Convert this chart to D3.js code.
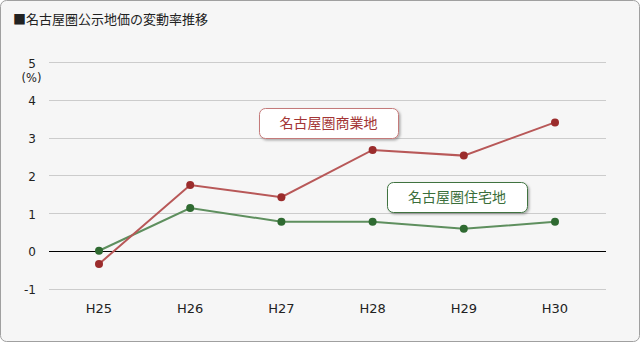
<!DOCTYPE html>
<html>
<head>
<meta charset="utf-8">
<script src="https://cdn.jsdelivr.net/npm/d3@7/dist/d3.min.js"></script>
<style>
  body { margin: 0; background: #fff; }
  svg { display: block; font-family: "Noto Sans CJK JP", "Noto Sans", sans-serif; }
  .num { font-family: "DejaVu Sans", sans-serif; }
</style>
</head>
<body>
<svg id="chart" width="640" height="342"></svg>
<script>
// data
const years = ['H25', 'H26', 'H27', 'H28', 'H29', 'H30'];
const commercial = [-0.35, 1.74, 1.42, 2.67, 2.52, 3.4];
const residential = [0, 1.13, 0.77, 0.77, 0.58, 0.77];
const yTicks = [-1, 0, 1, 2, 3, 4, 5];
const seriesNames = ['名古屋圏商業地', '名古屋圏住宅地'];

var colors = {
  redLine: '#b85858', redDot: '#9b2c2c', redText: '#a33535', redBorder: '#c47a7a',
  greenLine: '#5e8f5e', greenDot: '#2f6a31', greenText: '#3a6e3a', greenBorder: '#3f7340'
};

const svg = d3.select('#chart');

// background panel
svg.append('rect')
  .attr('x', 0.5).attr('y', 0.5)
  .attr('width', 639).attr('height', 341)
  .attr('rx', 6).attr('ry', 6)
  .attr('fill', '#f6f6f6')
  .attr('stroke', '#a0a0a0');

svg.append('text')
  .attr('x', 13).attr('y', 24)
  .attr('font-size', 13)
  .attr('fill', '#222')
  .text('■名古屋圏公示地価の変動率推移');

const left = 49, right = 606;
const x = d3.scalePoint().domain(years).range([99, 555]);
const y = d3.scaleLinear().domain([-1, 5]).range([288.5, 62]);

// grid
const grid = svg.append('g');
grid.selectAll('line')
  .data(yTicks)
  .enter().append('line')
  .attr('x1', left).attr('x2', right)
  .attr('y1', d => Math.round(y(d)) + 0.5)
  .attr('y2', d => Math.round(y(d)) + 0.5)
  .attr('stroke', d => d === 0 ? '#000' : '#cccccc')
  .attr('stroke-width', 1);

// y labels
svg.append('g').selectAll('text')
  .data(yTicks)
  .enter().append('text')
  .attr('class', 'num')
  .attr('x', 36)
  .attr('y', d => y(d) + 5.5)
  .attr('text-anchor', 'end')
  .attr('font-size', 12)
  .attr('fill', '#222')
  .text(d => d);

svg.append('text')
  .attr('class', 'num')
  .attr('x', 31.5).attr('y', 82)
  .attr('text-anchor', 'middle')
  .attr('font-size', 11.5)
  .attr('fill', '#222')
  .text('(%)');

// x labels
svg.append('g').selectAll('text')
  .data(years)
  .enter().append('text')
  .attr('class', 'num')
  .attr('x', d => x(d))
  .attr('y', 313)
  .attr('text-anchor', 'middle')
  .attr('font-size', 13)
  .attr('fill', '#222')
  .text(d => d);

const line = d3.line()
  .x((d, i) => x(years[i]))
  .y(d => y(d));

function drawSeries(vals, lineColor, dotColor) {
  svg.append('path')
    .datum(vals)
    .attr('d', line)
    .attr('fill', 'none')
    .attr('stroke', lineColor)
    .attr('stroke-width', 2);
  svg.append('g').selectAll('circle')
    .data(vals)
    .enter().append('circle')
    .attr('cx', (d, i) => x(years[i]))
    .attr('cy', d => y(d))
    .attr('r', 4)
    .attr('fill', dotColor);
}

drawSeries(residential, colors.greenLine, colors.greenDot);
drawSeries(commercial, colors.redLine, colors.redDot);

// label boxes
const defs = svg.append('defs');
const f = defs.append('filter').attr('id', 'shadow')
  .attr('x', '-10%').attr('y', '-20%').attr('width', '130%').attr('height', '160%');
f.append('feDropShadow')
  .attr('dx', 1.5).attr('dy', 1.5).attr('stdDeviation', 1.2)
  .attr('flood-color', '#000').attr('flood-opacity', 0.3);

function labelBox(bx, by, w, h, name, border, textColor) {
  svg.append('rect')
    .attr('x', bx + 0.5).attr('y', by + 0.5)
    .attr('width', w).attr('height', h)
    .attr('rx', 6).attr('ry', 6)
    .attr('fill', '#fff')
    .attr('stroke', border)
    .attr('filter', 'url(#shadow)');
  svg.append('text')
    .attr('x', bx + w / 2).attr('y', by + h / 2 + 5)
    .attr('text-anchor', 'middle')
    .attr('font-size', 14)
    .attr('fill', textColor)
    .text(name);
}

labelBox(259, 108, 139, 30, seriesNames[0], colors.redBorder, colors.redText);
labelBox(387, 182, 140, 30, seriesNames[1], colors.greenBorder, colors.greenText);
</script>
</body>
</html>
